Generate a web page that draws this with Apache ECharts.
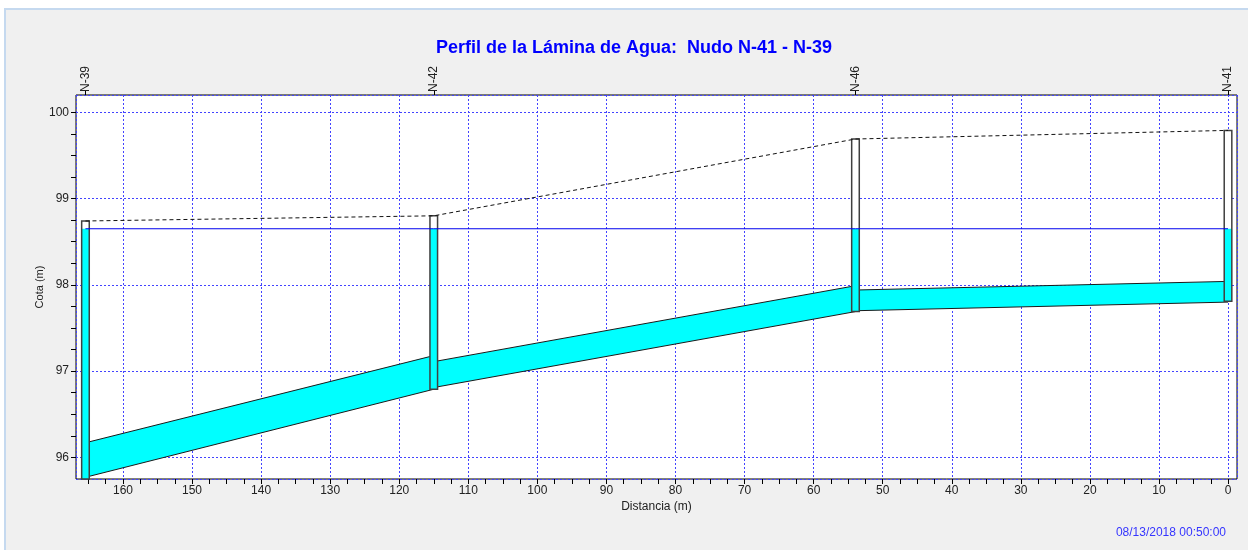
<!DOCTYPE html>
<html><head><meta charset="utf-8">
<script src="https://cdn.jsdelivr.net/npm/echarts@6/dist/echarts.min.js"></script>
<style>
html,body{margin:0;padding:0;background:#fff;width:1248px;height:550px;overflow:hidden}
#panel{position:absolute;left:4px;top:8px;width:1244px;height:542px;background:#f0f0f0;border-left:2px solid #c5d9ef;border-top:2px solid #c5d9ef;box-sizing:border-box}
#chart{position:absolute;left:0;top:0;width:1248px;height:550px}
</style></head><body>
<div id="panel"></div><div id="chart"></div>
<script>
const titleText = 'Perfil de la Lámina de Agua:  Nudo N-41 - N-39';
const stampText = '08/13/2018 00:50:00';
const xAxisName = 'Distancia (m)';
const yAxisName = 'Cota (m)';

// nodes (distance from N-41, m)
const nodeNames  = ['N-39', 'N-42', 'N-46', 'N-41'];
const nodeDist   = [165.43, 115.0, 53.94, 0];
const nodeInvert = [95.75, 96.79, 97.69, 97.81];
const nodeGround = [98.74, 98.80, 99.69, 99.79];
const nodeWater  = [98.65, 98.65, 98.65, 98.65];

// pipes between nodes
const pipeFromDist   = [165.43, 115.0, 53.94];
const pipeToDist     = [115.0, 53.94, 0];
const pipeInvertFrom = [95.77, 96.81, 97.70];
const pipeInvertTo   = [96.79, 97.69, 97.80];
const pipeCrownFrom  = [96.17, 97.11, 97.94];
const pipeCrownTo    = [97.18, 97.99, 98.04];

// axes
const xMin = -1.3, xMax = 166.8;
const yMin = 95.75, yMax = 100.2;
const xTickLabels = [0, 10, 20, 30, 40, 50, 60, 70, 80, 90, 100, 110, 120, 130, 140, 150, 160];
const yTickLabels = [96, 97, 98, 99, 100];
const xMinorStep = 2.5, yMinorStep = 0.25;

const xMinorTicks = [];
for (let v = 0; v <= 165 + 1e-9; v += xMinorStep) xMinorTicks.push(+v.toFixed(2));
const yMinorTicks = [];
for (let v = 96; v <= 100 + 1e-9; v += yMinorStep) yMinorTicks.push(+v.toFixed(2));

const FONT = '"Liberation Sans", Arial, sans-serif';
const gridLine = { show: true, lineStyle: { color: '#4343ff', type: [2, 2], width: 1 } };
const noLine = { show: false, onZero: false };
const hidden = { axisLine: noLine, axisTick: { show: false }, axisLabel: { show: false } };

const pipeData = pipeFromDist.map((d, i) => [d, pipeToDist[i], pipeInvertFrom[i], pipeInvertTo[i], pipeCrownFrom[i], pipeCrownTo[i]]);
const nodeData = nodeDist.map((d, i) => [d, nodeInvert[i], nodeGround[i], nodeWater[i]]);

const chart = echarts.init(document.getElementById('chart'), null, { renderer: 'canvas' });
chart.setOption({
  animation: false,
  backgroundColor: 'transparent',
  textStyle: { fontFamily: FONT },
  title: [
    { text: titleText, left: 431, top: 34, textStyle: { color: '#0000ff', fontSize: 18, fontWeight: 'bold', fontFamily: FONT } },
    { text: stampText, right: 17, top: 522, textStyle: { color: '#3535ff', fontSize: 12, fontWeight: 'normal', fontFamily: FONT } }
  ],
  grid: { left: 76, right: 11, top: 95, bottom: 71, show: true, backgroundColor: '#ffffff', borderColor: '#000', borderWidth: 1 },
  xAxis: [
    { type: 'value', gridIndex: 0, position: 'bottom', inverse: true, min: xMin, max: xMax,
      axisLine: noLine,
      axisTick: { show: true, customValues: xMinorTicks, length: 5, lineStyle: { color: '#000' } },
      axisLabel: { customValues: xTickLabels, margin: 6, color: '#222', fontSize: 12, fontFamily: FONT },
      splitLine: { show: false },
      name: xAxisName, nameLocation: 'middle', nameGap: 22, nameMoveOverlap: false,
      nameTextStyle: { color: '#222', fontSize: 12, fontFamily: FONT } },
    { type: 'value', gridIndex: 0, position: 'top', inverse: true, min: xMin, max: xMax,
      axisLine: noLine, splitLine: { show: false },
      axisTick: { show: true, customValues: nodeDist, length: 4, lineStyle: { color: '#000' } },
      axisLabel: { customValues: nodeDist, rotate: -90, margin: 3, color: '#222', fontSize: 12, fontFamily: FONT,
        formatter: function (v) {
          let best = 0;
          for (let i = 1; i < nodeDist.length; i++) if (Math.abs(nodeDist[i] - v) < Math.abs(nodeDist[best] - v)) best = i;
          return nodeNames[best];
        } } },
    Object.assign({ type: 'value', gridIndex: 0, position: 'bottom', inverse: true, min: xMin, max: xMax, splitNumber: 17,
      splitLine: gridLine }, hidden)
  ],
  yAxis: [
    { type: 'value', gridIndex: 0, position: 'left', min: yMin, max: yMax,
      axisLine: noLine,
      axisTick: { show: true, customValues: yMinorTicks, length: 5, lineStyle: { color: '#000' } },
      axisLabel: { customValues: yTickLabels, margin: 7, color: '#222', fontSize: 12, fontFamily: FONT },
      splitLine: { show: false },
      name: yAxisName, nameLocation: 'middle', nameGap: 31, nameRotate: 90, nameMoveOverlap: false,
      nameTextStyle: { color: '#222', fontSize: 11, fontFamily: FONT } },
    Object.assign({ type: 'value', gridIndex: 0, position: 'right', min: yMin, max: yMax, splitNumber: 4,
      splitLine: gridLine }, hidden)
  ],
  series: [
    { type: 'custom', name: 'pipes', xAxisIndex: 0, yAxisIndex: 0, data: pipeData,
      encode: { x: [0, 1], y: [2, 3, 4, 5] },
      renderItem: function (params, api) {
        const cf = api.coord([api.value(0), api.value(4)]);
        const ct = api.coord([api.value(1), api.value(5)]);
        const it = api.coord([api.value(1), api.value(3)]);
        const iF = api.coord([api.value(0), api.value(2)]);
        return { type: 'polygon', shape: { points: [cf, ct, it, iF] },
          style: { fill: '#00ffff', stroke: '#1a1a1a', lineWidth: 1 } };
      } },
    { type: 'line', name: 'water', xAxisIndex: 0, yAxisIndex: 0,
      data: nodeDist.map((d, i) => [d, nodeWater[i]]), symbol: 'none',
      lineStyle: { color: '#0000ee', width: 1 } },
    { type: 'line', name: 'ground', xAxisIndex: 0, yAxisIndex: 0,
      data: nodeDist.map((d, i) => [d, nodeGround[i]]), symbol: 'none',
      lineStyle: { color: '#111', width: 1, type: [4, 3] } },
    { type: 'custom', name: 'nodes', xAxisIndex: 0, yAxisIndex: 0, data: nodeData,
      encode: { x: 0, y: [1, 2, 3] },
      renderItem: function (params, api) {
        const x = api.value(0);
        const g = api.coord([x, api.value(2)]);
        const b = api.coord([x, api.value(1)]);
        const w = api.coord([x, api.value(3)]);
        const hw = 3.8;
        return { type: 'group', children: [
          { type: 'rect', shape: { x: g[0] - hw, y: g[1], width: 2 * hw, height: b[1] - g[1] }, style: { fill: '#ffffff' } },
          { type: 'rect', shape: { x: g[0] - hw, y: w[1], width: 2 * hw, height: b[1] - w[1] }, style: { fill: '#00ffff' } },
          { type: 'rect', shape: { x: g[0] - hw, y: g[1], width: 2 * hw, height: b[1] - g[1] }, style: { fill: 'none', stroke: '#404040', lineWidth: 1.5 } }
        ] };
      } }
  ]
});
</script>
</body></html>
